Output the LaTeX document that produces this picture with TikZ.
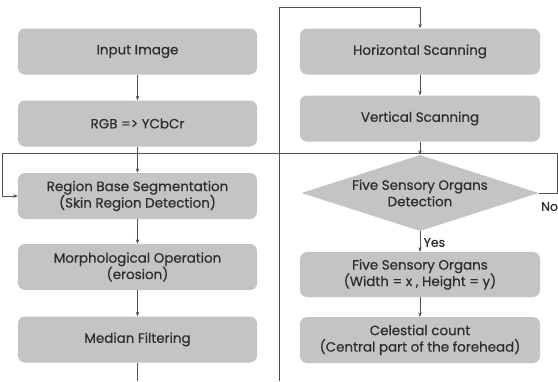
\documentclass[tikz,border=0pt]{standalone}
\usepackage{fontspec}
\setmainfont{Poppins}
\newfontfamily\flowfont{Poppins}[FakeBold=0.5]
\usetikzlibrary{shapes.geometric,arrows.meta}

\definecolor{boxgray}{RGB}{196,196,196}
\definecolor{txtgray}{RGB}{45,45,45}
\definecolor{linegray}{RGB}{80,80,80}

\tikzset{
  stepbox/.style={draw=none,fill=boxgray,rounded corners=7bp,minimum width=239bp,minimum height=46bp,
    align=center,text=txtgray,font=\flowfont\fontsize{13.5}{16.5}\selectfont,inner sep=1bp},
  testbox/.style={diamond,aspect=3.1,draw=none,fill=boxgray,minimum width=237bp,minimum height=76bp,inner sep=0pt,
    align=center,text=txtgray,font=\flowfont\fontsize{13.5}{16.5}\selectfont},
  flow/.style={draw=linegray,line width=0.6pt,-{Stealth[length=4.5bp,width=3.5bp]}},
  wire/.style={draw=linegray,line width=0.6pt}
}

\begin{document}
\begin{tikzpicture}[x=1bp,y=-1bp]
\useasboundingbox (0,0) rectangle (558,381);

% left column
\node[stepbox] (in) at (137.5,51.5) {Input Image};
\node[stepbox] (rgb) at (137.5,123.5) {RGB =\textgreater{} YCbCr};
\node[stepbox] (seg) at (137.5,196) {Region Base Segmentation\\(Skin Region Detection)};
\node[stepbox] (morph) at (137.5,267) {Morphological Operation\\(erosion)};
\node[stepbox] (median) at (137.5,339.5) {Median Filtering};

% right column
\node[stepbox,minimum width=240bp] (hscan) at (420,51.5) {Horizontal Scanning};
\node[stepbox,minimum width=240bp] (vscan) at (420,118.5) {Vertical Scanning};
\node[testbox] (det) at (420,193) {Five Sensory Organs\\Detection};
\node[stepbox,minimum width=240bp,minimum height=45bp] (organs) at (420,274.5) {Five Sensory Organs\\(Width = x , Height = y)};
\node[stepbox,minimum width=240bp] (count) at (420,340) {Celestial count\\(Central part of the forehead)};

\coordinate (lb) at (279,381);
\coordinate (tp) at (279,7);
\coordinate (mb) at (137.5,381);
\coordinate (nr) at (557,153);
\coordinate (nl) at (2,153);

\draw[flow] (in) -- (rgb);
\draw[flow] (rgb) -- (seg);
\draw[flow] (seg) -- (morph);
\draw[flow] (morph) -- (median);
\draw[wire] (median) -- (mb);

\draw[flow] (lb) -- (tp) -| (hscan.north);
\draw[flow] (hscan) -- (vscan);
\draw[flow] (vscan) -- (det);
\draw[flow] (det) -- node[right=0bp,pos=0.55,text=txtgray,font=\flowfont\fontsize{12.5}{14}\selectfont]{Yes} (organs);
\draw[flow] (organs) -- (count);

% No
\draw[flow] (det.east) -| (nr) -- (nl) |- (seg.west);
\node[anchor=north west,inner sep=0pt,text=txtgray,font=\flowfont\fontsize{12.5}{14}\selectfont] (no) at (541,202) {No};
\end{tikzpicture}
\end{document}
